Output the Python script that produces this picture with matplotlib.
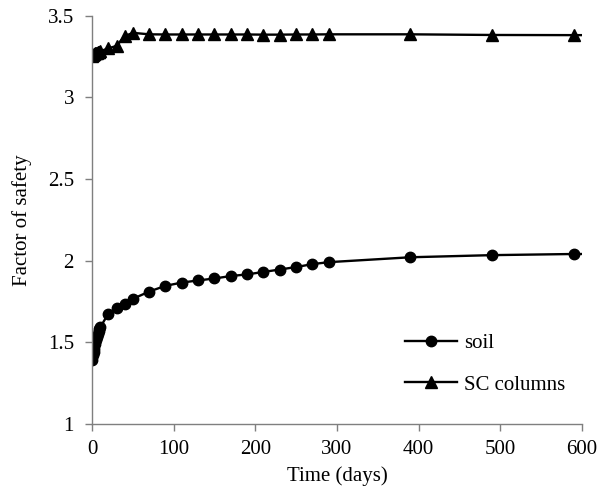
import numpy as np
import matplotlib.pyplot as plt

plt.rcParams['font.family'] = ['Liberation Serif', 'DejaVu Serif']

# time (days) - last point has no marker (line runs on to 600)
days = [0, 1, 2, 3, 4, 5, 6, 7, 8, 9, 10, 20, 30, 40, 50, 70, 90, 110, 130,
        150, 170, 190, 210, 230, 250, 270, 290, 390, 490, 590, 600]

# factor of safety, soil
fs_soil = [1.39, 1.42, 1.44, 1.46, 1.49, 1.51, 1.53, 1.55, 1.57, 1.58, 1.59,
           1.675, 1.71, 1.735, 1.765, 1.81, 1.845, 1.865, 1.878,
           1.89, 1.905, 1.915, 1.93, 1.945, 1.96, 1.978, 1.99, 2.02, 2.033, 2.04, 2.04]

# factor of safety, SC columns
fs_sc = [3.255, 3.26, 3.265, 3.268, 3.27, 3.272, 3.274, 3.276, 3.278, 3.28, 3.282,
         3.30, 3.315, 3.375, 3.395, 3.386, 3.385, 3.385, 3.385,
         3.385, 3.385, 3.385, 3.384, 3.384, 3.385, 3.385, 3.386, 3.386, 3.382, 3.381, 3.381]

fig = plt.figure(figsize=(6.03, 4.91), dpi=100)
ax = fig.add_axes([0.1526, 0.137, 0.8124, 0.831])

marks = list(range(len(days) - 1))
ax.plot(days, fs_soil, color='black', lw=1.7, marker='o', ms=7.5,
        markevery=marks, label='soil')
ax.plot(days, fs_sc, color='black', lw=1.7, marker='^', ms=8,
        markevery=marks, label='SC columns')

ax.set_xlim(0, 600)
ax.set_ylim(1, 3.5)
ax.set_xticks(np.arange(0, 601, 100))
ax.set_yticks([1, 1.5, 2, 2.5, 3, 3.5])
ax.set_yticklabels(['1', '1.5', '2', '2.5', '3', '3.5'])

for side in ['top', 'right']:
    ax.spines[side].set_visible(False)
for side in ['left', 'bottom']:
    ax.spines[side].set_color('#7f7f7f')
    ax.spines[side].set_linewidth(1.0)
ax.tick_params(direction='out', length=5, width=1.0, color='#7f7f7f',
               labelsize=15)
ax.tick_params(axis='y', pad=8)
ax.tick_params(axis='x', pad=7)

ax.set_xlabel('Time (days)', fontsize=15, labelpad=5)
ax.set_ylabel('Factor of safety', fontsize=15, labelpad=11)

ax.legend(loc='center left', bbox_to_anchor=(0.6, 0.146), frameon=False,
          fontsize=15, handlelength=2.5, labelspacing=1.05, handletextpad=0.35)

fig.savefig('out.png', dpi=100)
